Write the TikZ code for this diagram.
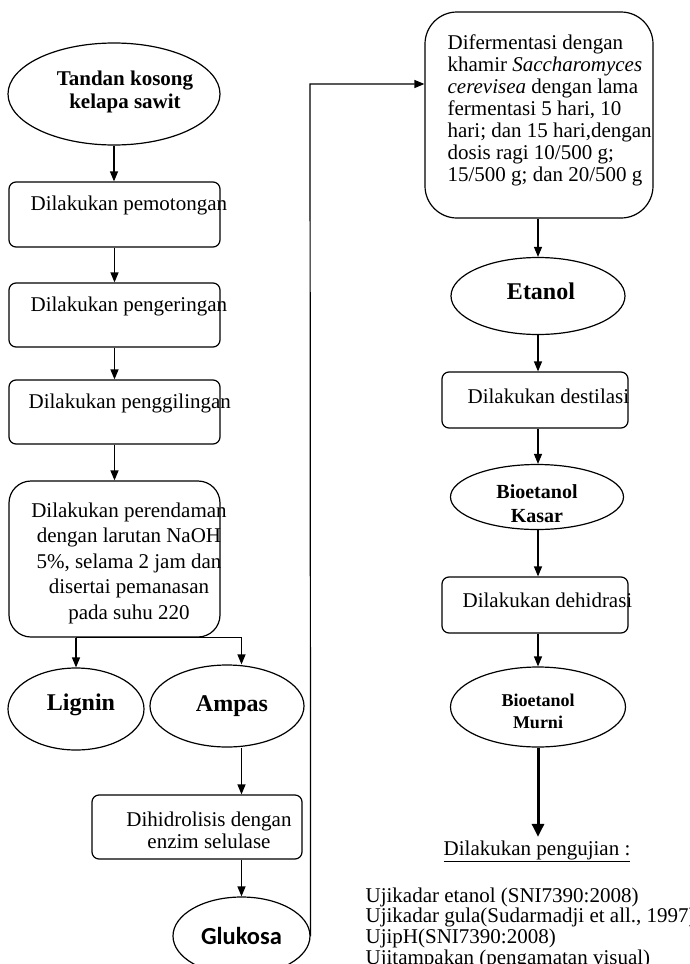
\documentclass[tikz,border=0pt]{standalone}
\usepackage{fontspec}
\setmainfont{Liberation Serif}
\newfontfamily\calibri{Carlito}
\usetikzlibrary{shapes.geometric,arrows.meta}

\newcommand{\teks}{\fontsize{21}{22}\selectfont}
\newcommand{\judul}{\fontsize{21}{23}\selectfont\bfseries}
\newcommand{\besar}{\fontsize{24}{26}\selectfont\bfseries}

\tikzset{
    proses/.style={draw, rounded corners=7pt, inner sep=0pt},
    hasil/.style={draw, ellipse, inner sep=0pt, align=center},
    tulisan/.style={inner sep=0pt, anchor=west, font=\teks},
}

\begin{document}
\begin{tikzpicture}[x=1pt, y=-1pt, line width=1.2pt, >={Triangle[length=10pt,width=8pt]}]
    \useasboundingbox (0,0) rectangle (690,964);

    % Kolom kiri
    \node[hasil, minimum width=212pt, minimum height=102pt,
        label={[font=\judul, align=center, xshift=11pt, yshift=2pt]center:Tandan kosong\\kelapa sawit}] (tandan) at (114,94) {};

    \node[proses, minimum width=211pt, minimum height=65pt] (potong) at (114.5,214.5) {};
    \node[tulisan] (tpotong) at (30,205) {Dilakukan pemotongan};

    \node[proses, minimum width=211pt, minimum height=64pt] (kering) at (114.5,315) {};
    \node[tulisan] (tkering) at (30,306) {Dilakukan pengeringan};

    \node[proses, minimum width=211pt, minimum height=64pt] (giling) at (114.5,412) {};
    \node[tulisan] (tgiling) at (28,403) {Dilakukan penggilingan};

    \node[proses, rounded corners=22pt, minimum width=211pt, minimum height=156pt] (rendam) at (114.5,559) {};
    \node[inner sep=0pt, align=center, font=\fontsize{21}{25.5}\selectfont] (trendam) at (129,563)
        {Dilakukan perendaman\\dengan larutan NaOH\\5\%, selama 2 jam dan\\disertai pemanasan\\pada suhu 220};

    \node[hasil, minimum width=136pt, minimum height=82pt,
        label={[font=\besar, xshift=5pt, yshift=4pt]center:Lignin}] (lignin) at (76,709) {};
    \node[hasil, minimum width=154pt, minimum height=82pt,
        label={[font=\besar, xshift=5pt]center:Ampas}] (ampas) at (227,706) {};

    \node[proses, minimum width=210pt, minimum height=64pt] (hidrolisis) at (197,827) {};
    \node[inner sep=0pt, align=center, font=\teks] (thidrolisis) at (209,830) {Dihidrolisis dengan\\enzim selulase};

    \node[hasil, minimum width=137pt, minimum height=78pt, font=\fontsize{24.5}{26}\selectfont\calibri\bfseries] (glukosa) at (241.5,936) {Glukosa};

    \draw[->] (tandan.south) -- (tandan.south |- potong.north);
    \draw[->] (potong.south) -- (potong.south |- kering.north);
    \draw[->] (kering.south) -- (kering.south |- giling.north);
    \draw[->] (giling.south) -- (giling.south |- rendam.north);

    % Percabangan lignin dan ampas
    \draw (lignin.north |- rendam.south) -- (glukosa.north |- rendam.south);
    \draw[->] (lignin.north |- rendam.south) -- (lignin.north);
    \draw[->] (glukosa.north |- rendam.south) -- (glukosa.north |- ampas.north);
    \draw[->] (glukosa.north |- ampas.south) -- (glukosa.north |- hidrolisis.north);
    \draw[->] (glukosa.north |- hidrolisis.south) -- (glukosa.north);

    % Glukosa ke fermentasi
    \coordinate (belok) at (310,84);

    % Kolom kanan
    \node[proses, rounded corners=32pt, minimum width=228pt, minimum height=206pt] (ferment) at (539,115) {};
    \node[tulisan, align=left] (tferment) at (447,110)
        {Difermentasi dengan\\khamir \textit{Saccharomyces}\\\textit{cerevisea} dengan lama\\fermentasi 5 hari, 10\\hari; dan 15 hari,dengan\\dosis ragi 10/500 g;\\15/500 g; dan 20/500 g};

    \draw[->] (glukosa.east) -- (belok) -- (ferment.west |- belok);

    \node[hasil, minimum width=174pt, minimum height=77pt,
        label={[font=\besar, xshift=3pt, yshift=5pt]center:Etanol}] (etanol) at (538,296) {};

    \node[proses, minimum width=186pt, minimum height=56pt] (destilasi) at (535,400) {};
    \node[tulisan] (tdestilasi) at (467,396) {Dilakukan destilasi};

    \node[hasil, minimum width=173pt, minimum height=65pt,
        label={[font=\fontsize{20}{24}\selectfont\bfseries, align=center, yshift=-7pt]center:Bioetanol\\Kasar}] (kasar) at (537,497) {};

    \node[proses, minimum width=186pt, minimum height=56pt] (dehidrasi) at (535,605) {};
    \node[tulisan] (tdehidrasi) at (462,600) {Dilakukan dehidrasi};

    \node[hasil, minimum width=175pt, minimum height=80pt,
        label={[font=\fontsize{18}{22}\selectfont\bfseries, align=center, yshift=-4pt]center:Bioetanol\\Murni}] (murni) at (538,707) {};

    \draw[->] (ferment.south -| etanol) -- (etanol.north);
    \draw[->] (etanol.south) -- (etanol.south |- destilasi.north);
    \draw[->] (etanol.south |- destilasi.south) -- (etanol.south |- kasar.north);
    \draw[->] (etanol.south |- kasar.south) -- (etanol.south |- dehidrasi.north);
    \draw[->] (etanol.south |- dehidrasi.south) -- (etanol.south |- murni.north);

    % Pengujian
    \node[inner sep=3pt, font=\teks] (uji) at (537,851) {\underline{Dilakukan pengujian :}};
    \draw[->, line width=3pt, >={Triangle[length=13pt,width=12pt]}] (murni.south) -- (murni.south |- uji.north);

    \node[inner sep=0pt, anchor=north west, align=left, font=\fontsize{21}{20.7}\selectfont] (daftar) at (365,887)
        {Ujikadar etanol (SNI7390:2008)\\Ujikadar gula(Sudarmadji et all., 1997)\\UjipH(SNI7390:2008)\\Ujitampakan (pengamatan visual)};
\end{tikzpicture}
\end{document}
